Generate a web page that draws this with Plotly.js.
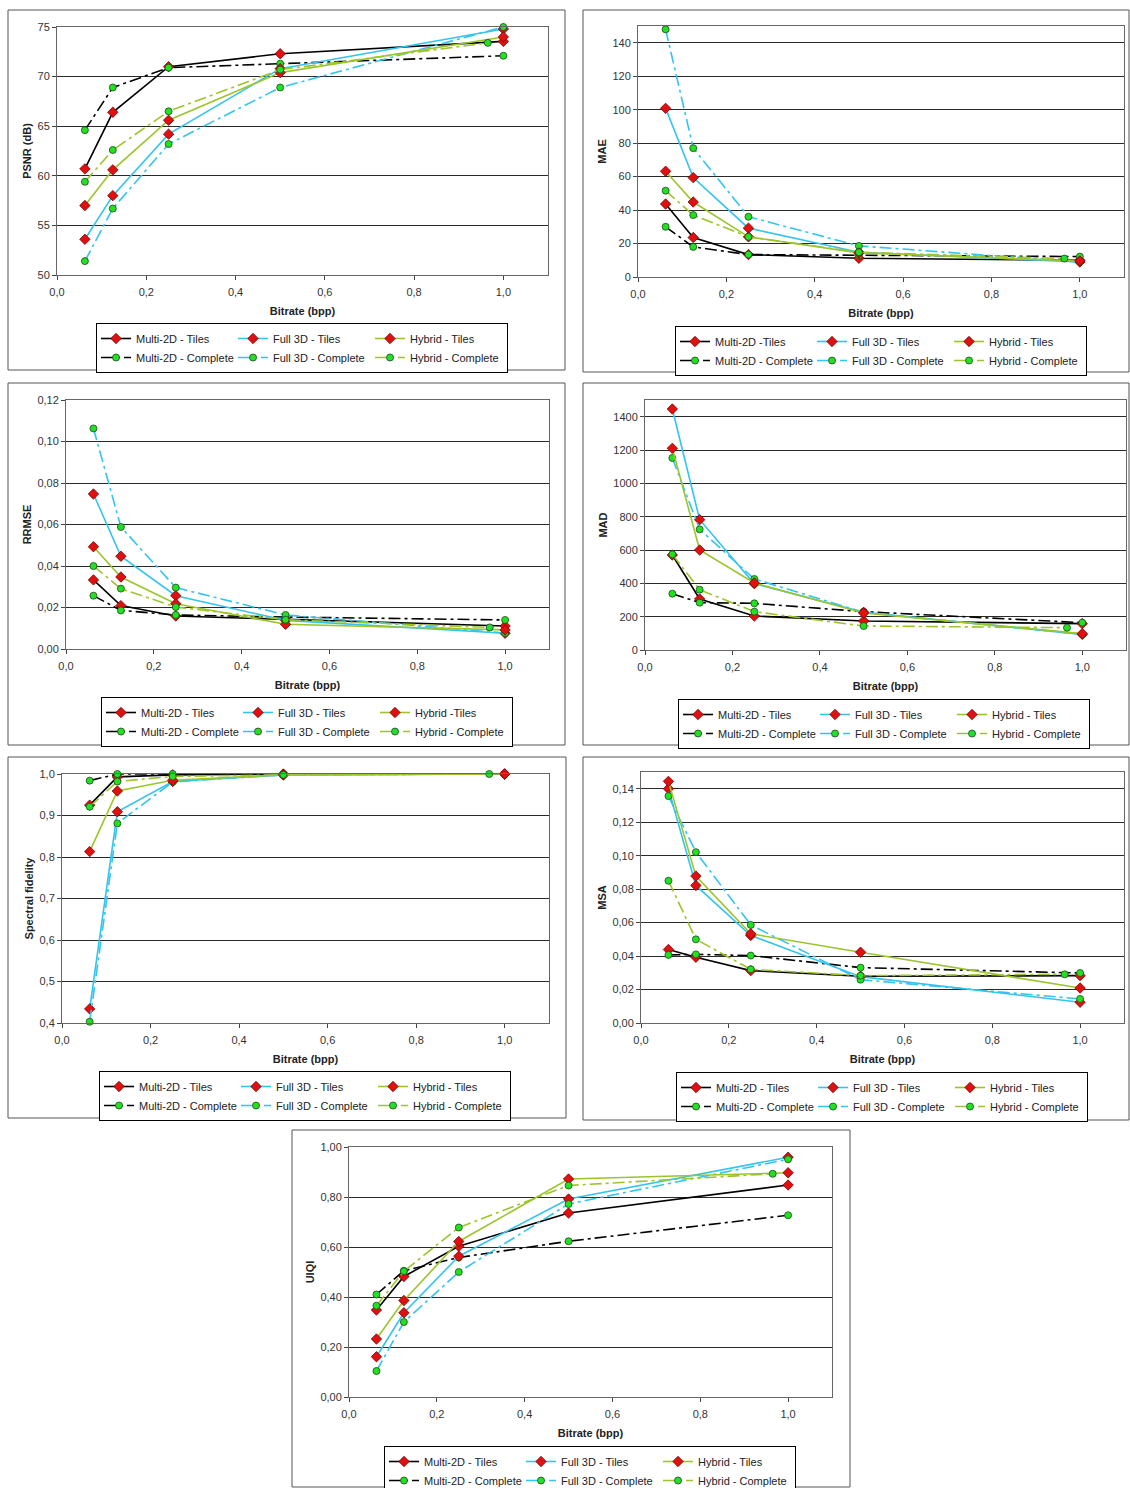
<!DOCTYPE html>
<html>
<head>
<meta charset="utf-8">
<script src="https://cdn.plot.ly/plotly-3.0.1.min.js"></script>
<style>
html,body{margin:0;padding:0;background:#fff;}
#chart{width:1130px;height:1488px;}
</style>
</head>
<body>
<div id="chart"></div>
<script>
// ---------- DATA ----------
const bitrate = [0.0625, 0.125, 0.25, 0.5, 1.0];
const bitrateHybridComplete = [0.0625, 0.125, 0.25, 0.5, 0.965];

// PSNR (dB)
const psnrMultiTiles      = [60.7, 66.4, 71.0, 72.3, 73.55];
const psnrMultiComplete   = [64.6, 68.9, 70.9, 71.3, 72.1];
const psnrFullTiles       = [53.6, 58.0, 64.2, 70.8, 74.8];
const psnrFullComplete    = [51.4, 56.7, 63.2, 68.9, 75.0];
const psnrHybridTiles     = [57.0, 60.6, 65.6, 70.4, 74.0];
const psnrHybridComplete  = [59.4, 62.6, 66.5, 70.7, 73.4];

// MAE
const maeMultiTiles       = [43.6, 23.6, 13.4, 11.2, 10.0];
const maeMultiComplete    = [30.0, 18.0, 13.4, 13.0, 12.2];
const maeFullTiles        = [100.8, 59.4, 29.2, 14.8, 9.0];
const maeFullComplete     = [148.0, 77.0, 36.0, 18.6, 9.0];
const maeHybridTiles      = [63.2, 44.8, 24.0, 14.4, 9.6];
const maeHybridComplete   = [51.6, 37.0, 24.0, 14.8, 11.0];

// RRMSE
const rrmseMultiTiles     = [0.0333, 0.0209, 0.0159, 0.0143, 0.0111];
const rrmseMultiComplete  = [0.0257, 0.0186, 0.0164, 0.0154, 0.0140];
const rrmseFullTiles      = [0.0747, 0.0447, 0.0257, 0.0138, 0.0076];
const rrmseFullComplete   = [0.1063, 0.0588, 0.0296, 0.0164, 0.0077];
const rrmseHybridTiles    = [0.0493, 0.0347, 0.0218, 0.0119, 0.0092];
const rrmseHybridComplete = [0.0400, 0.0291, 0.0202, 0.0141, 0.0104];

// MAD
const madMultiTiles       = [570, 306, 204, 174, 158];
const madMultiComplete    = [338, 284, 280, 230, 164];
const madFullTiles        = [1446, 782, 398, 226, 94];
const madFullComplete     = [1152, 724, 426, 226, 94];
const madHybridTiles      = [1210, 600, 402, 222, 98];
const madHybridComplete   = [574, 362, 230, 144, 134];

// Spectral fidelity
const sfMultiTiles        = [0.925, 0.993, 0.998, 1.0, 1.0];
const sfMultiComplete     = [0.984, 1.0, 1.0, 1.0, 1.0];
const sfFullTiles         = [0.434, 0.909, 0.982, 0.998, 1.0];
const sfFullComplete      = [0.403, 0.881, 0.981, 0.998, 1.0];
const sfHybridTiles       = [0.813, 0.959, 0.985, 0.998, 1.0];
const sfHybridComplete    = [0.921, 0.982, 0.994, 0.998, 1.0];

// MSA
const msaMultiTiles       = [0.0439, 0.0393, 0.0313, 0.0279, 0.0283];
const msaMultiComplete    = [0.0407, 0.0410, 0.0403, 0.0331, 0.0299];
const msaFullTiles        = [0.1400, 0.0822, 0.0523, 0.0277, 0.0124];
const msaFullComplete     = [0.1356, 0.1021, 0.0586, 0.0259, 0.0144];
const msaHybridTiles      = [0.1444, 0.0878, 0.0533, 0.0423, 0.0209];
const msaHybridComplete   = [0.0850, 0.0500, 0.0321, 0.0283, 0.0291];

// UIQI
const uiqiMultiTiles      = [0.348, 0.482, 0.603, 0.736, 0.848];
const uiqiMultiComplete   = [0.410, 0.505, 0.558, 0.623, 0.727];
const uiqiFullTiles       = [0.161, 0.337, 0.563, 0.792, 0.959];
const uiqiFullComplete    = [0.104, 0.300, 0.500, 0.772, 0.951];
const uiqiHybridTiles     = [0.232, 0.386, 0.622, 0.872, 0.897];
const uiqiHybridComplete  = [0.365, 0.503, 0.678, 0.846, 0.893];

// Legend labels per panel
const labelsStd  = ['Multi-2D - Tiles', 'Multi-2D - Complete', 'Full 3D - Tiles', 'Full 3D - Complete', 'Hybrid - Tiles', 'Hybrid - Complete'];
const labelsMAE  = ['Multi-2D -Tiles', 'Multi-2D - Complete', 'Full 3D - Tiles', 'Full 3D - Complete', 'Hybrid - Tiles', 'Hybrid - Complete'];
const labelsRRMSE= ['Multi-2D - Tiles', 'Multi-2D - Complete', 'Full 3D - Tiles', 'Full 3D - Complete', 'Hybrid -Tiles', 'Hybrid - Complete'];

const yTitles = ['PSNR (dB)', 'MAE', 'RRMSE', 'MAD', 'Spectral fidelity', 'MSA', 'UIQI'];
const xTitle = 'Bitrate (bpp)';

// ---------- LAYOUT / STYLE ----------
const W = 1130, H = 1488;
const FONT = 'Arial, "Liberation Sans", sans-serif';
const COL = {multi: '#000000', full: '#33c4ef', hybrid: '#9cc52c'};
const DASHDOT = '12px,4px,3px,4px';

const panels = [
  {data:[psnrMultiTiles, psnrMultiComplete, psnrFullTiles, psnrFullComplete, psnrHybridTiles, psnrHybridComplete], labels:labelsStd,
   frame:[8,10,565,370], plot:[57,27,548,275], yr:[50,75], dtick:5, fmt:'', leg:[302,323]},
  {data:[maeMultiTiles, maeMultiComplete, maeFullTiles, maeFullComplete, maeHybridTiles, maeHybridComplete], labels:labelsMAE,
   frame:[583,10,1129,372], plot:[638,26,1124,277], yr:[0,150], dtick:20, fmt:'', leg:[881,326]},
  {data:[rrmseMultiTiles, rrmseMultiComplete, rrmseFullTiles, rrmseFullComplete, rrmseHybridTiles, rrmseHybridComplete], labels:labelsRRMSE,
   frame:[8,383,565,745], plot:[66,400,549,649], yr:[0,0.12], dtick:0.02, fmt:'.2f', leg:[307,697]},
  {data:[madMultiTiles, madMultiComplete, madFullTiles, madFullComplete, madHybridTiles, madHybridComplete], labels:labelsStd,
   frame:[583,383,1129,745], plot:[645,400,1126,650], yr:[0,1500], dtick:200, fmt:'', leg:[884,699]},
  {data:[sfMultiTiles, sfMultiComplete, sfFullTiles, sfFullComplete, sfHybridTiles, sfHybridComplete], labels:labelsStd,
   frame:[8,757,566,1118], plot:[62,774,549,1023], yr:[0.4,1.0], dtick:0.1, fmt:'.1f', leg:[305,1071]},
  {data:[msaMultiTiles, msaMultiComplete, msaFullTiles, msaFullComplete, msaHybridTiles, msaHybridComplete], labels:labelsStd,
   frame:[583,757,1129,1120], plot:[641,772,1124,1023], yr:[0,0.15], dtick:0.02, fmt:'.2f', leg:[882,1072]},
  {data:[uiqiMultiTiles, uiqiMultiComplete, uiqiFullTiles, uiqiFullComplete, uiqiHybridTiles, uiqiHybridComplete], labels:labelsStd,
   frame:[292,1130,850,1487], plot:[349,1147,832,1397], yr:[0,1], dtick:0.2, fmt:'.2f', leg:[590,1446]}
];

const methods = ['multi','multi','full','full','hybrid','hybrid'];
const isTiles = [true,false,true,false,true,false];

const px = x => x / W;
const py = y => 1 - y / H;

const traces = [];
const layout = {
  width: W, height: H,
  margin: {l:0, r:0, t:0, b:0, autoexpand: false},
  paper_bgcolor: '#ffffff',
  plot_bgcolor: '#ffffff',
  separators: ', ',
  font: {family: FONT, size: 11, color: '#222'},
  showlegend: true,
  shapes: []
};

panels.forEach((p, i) => {
  const n = i + 1;
  const xa = 'xaxis' + (n === 1 ? '' : n);
  const ya = 'yaxis' + (n === 1 ? '' : n);
  const xr = 'x' + (n === 1 ? '' : n);
  const yr = 'y' + (n === 1 ? '' : n);
  const lg = 'legend' + (n === 1 ? '' : n);

  p.data.forEach((vals, k) => {
    const tiles = isTiles[k];
    const xs = (methods[k] === 'hybrid' && !tiles) ? bitrateHybridComplete : bitrate;
    traces.push({
      type: 'scatter', mode: 'lines+markers',
      x: xs, y: vals,
      xaxis: xr, yaxis: yr,
      name: p.labels[k],
      legend: lg,
      legendgroup: 'p' + n + methods[k],
      cliponaxis: false,
      line: {color: COL[methods[k]], width: 1.6, dash: tiles ? 'solid' : DASHDOT},
      marker: tiles
        ? {symbol: 'diamond', size: 8, color: '#e01010', line: {color: '#7a0000', width: 0.8}}
        : {symbol: 'circle', size: 7, color: '#22e022', line: {color: '#1a4a1a', width: 0.8}}
    });
  });

  layout[xa] = {
    domain: [px(p.plot[0]), px(p.plot[2])],
    anchor: yr,
    range: [0, 1.1], tick0: 0, dtick: 0.2, tickformat: '.1f',
    showgrid: false, zeroline: false,
    showline: true, mirror: true, linecolor: '#666', linewidth: 1,
    ticks: 'outside', ticklen: 4, tickcolor: '#444', ticklabelstandoff: 3,
    tickfont: {family: FONT, size: 11, color: '#333'},
    title: {text: xTitle, font: {family: FONT, size: 11, color: '#222', weight: 700}, standoff: 10}
  };
  layout[ya] = {
    domain: [py(p.plot[3]), py(p.plot[1])],
    anchor: xr,
    range: p.yr, tick0: 0, dtick: p.dtick, tickformat: p.fmt,
    showgrid: true, gridcolor: '#2a2a2a', gridwidth: 1,
    zeroline: false,
    showline: true, mirror: true, linecolor: '#666', linewidth: 1,
    ticks: 'outside', ticklen: 4, tickcolor: '#444',
    tickfont: {family: FONT, size: 11, color: '#333'},
    title: {text: yTitles[i], font: {family: FONT, size: 11, color: '#222', weight: 700}, standoff: 3}
  };
  layout[lg] = {
    x: px(p.leg[0]), xanchor: 'center',
    y: py(p.leg[1]), yanchor: 'top',
    orientation: 'h',
    traceorder: 'grouped',
    tracegroupgap: 0,
    entrywidth: 92, entrywidthmode: 'pixels',
    itemwidth: 30,
    bgcolor: '#ffffff', bordercolor: '#000', borderwidth: 1,
    font: {family: FONT, size: 11, color: '#222'}
  };
  layout.shapes.push({
    type: 'rect', xref: 'paper', yref: 'paper',
    x0: px(p.frame[0]), x1: px(p.frame[2]),
    y0: py(p.frame[3]), y1: py(p.frame[1]),
    line: {color: '#555', width: 1}, fillcolor: 'rgba(0,0,0,0)', layer: 'below'
  });
});

Plotly.newPlot('chart', traces, layout, {staticPlot: true, displayModeBar: false});
</script>
</body>
</html>
